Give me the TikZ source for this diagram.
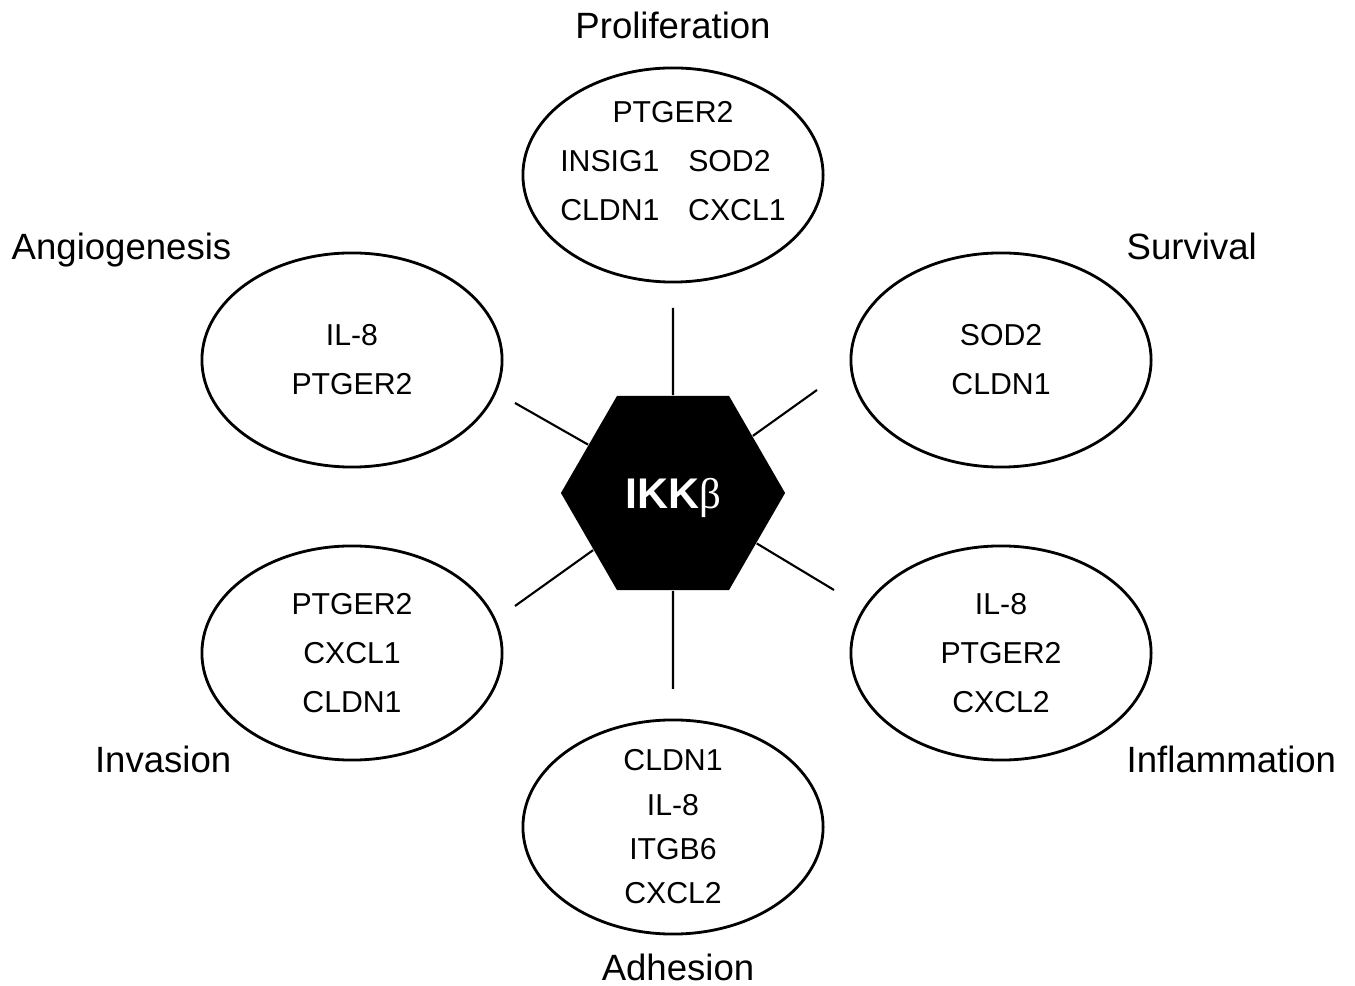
\documentclass[tikz,border=0pt]{standalone}
\usepackage{fontspec}
\setmainfont{Liberation Sans}
\newfontfamily\greekserif{Liberation Serif}
\usetikzlibrary{shapes.geometric}

\begin{document}
\begin{tikzpicture}[
  x=0.01cm, y=-0.01cm,
  font=\fontsize{8.6}{13.9}\selectfont,
  hub/.style={regular polygon, regular polygon sides=6, fill=black,
    minimum size=2.24cm, inner sep=0pt, text=white, text depth=0pt,
    font=\fontsize{12.2}{14}\selectfont},
  role/.style={ellipse, draw=black, line width=0.8pt,
    minimum width=3.0cm, minimum height=2.14cm, inner sep=0pt},
  genes/.style={align=center, inner sep=0pt},
  process/.style={font=\fontsize{10.4}{12}\selectfont, inner sep=0pt},
  spoke/.style={line width=0.6pt}
]
\useasboundingbox (0,0) rectangle (1355,986);

% IKKb hub with its six processes around it
\node[hub] (ikk) at (673,493) {\bfseries IKK{\mdseries\greekserif β}};

\node[role] (pro) at (673,175) {};
\node[role] (ang) at (352,360) {};
\node[role] (sur) at (1001,360) {};
\node[role] (inv) at (352,653) {};
\node[role] (inf) at (1001,653) {};
\node[role] (adh) at (673,827) {};

\node[genes] (proGenes) at ([yshift=0.13cm]pro.center)
  {\begin{tabular}{@{}l@{\hspace{8.2pt}}l@{}}
   \multicolumn{2}{c}{PTGER2}\\
   INSIG1 & SOD2\\
   CLDN1 & CXCL1
   \end{tabular}};
\node[genes] (angGenes) at (ang) {IL-8\\PTGER2};
\node[genes] (surGenes) at (sur) {SOD2\\CLDN1};
\node[genes] (invGenes) at (inv) {PTGER2\\CXCL1\\CLDN1};
\node[genes] (infGenes) at (inf) {IL-8\\PTGER2\\CXCL2};
\node[genes, font=\fontsize{8.6}{12.6}\selectfont] (adhGenes) at (adh)
  {CLDN1\\IL-8\\ITGB6\\CXCL2};

\node[process, anchor=base] (proLabel) at (673,39) {Proliferation};
\node[process, anchor=base east] (angLabel) at (232,260) {Angiogenesis};
\node[process, anchor=base west] (surLabel) at (1126,260) {Survival};
\node[process, anchor=base east] (invLabel) at (232,773) {Invasion};
\node[process, anchor=base west] (infLabel) at (1126,773) {Inflammation};
\node[process, anchor=base] (adhLabel) at (678,980) {Adhesion};

% spokes stop short of the ellipses
\coordinate (proTip) at (673,308);
\coordinate (angTip) at (515,403);
\coordinate (surTip) at (817,390);
\coordinate (invTip) at (515,606);
\coordinate (infTip) at (834,590);
\coordinate (adhTip) at (673,689);
\foreach \tip in {proTip,angTip,surTip,invTip,infTip,adhTip}
  \draw[spoke] (ikk) -- (\tip);
\end{tikzpicture}
\end{document}
